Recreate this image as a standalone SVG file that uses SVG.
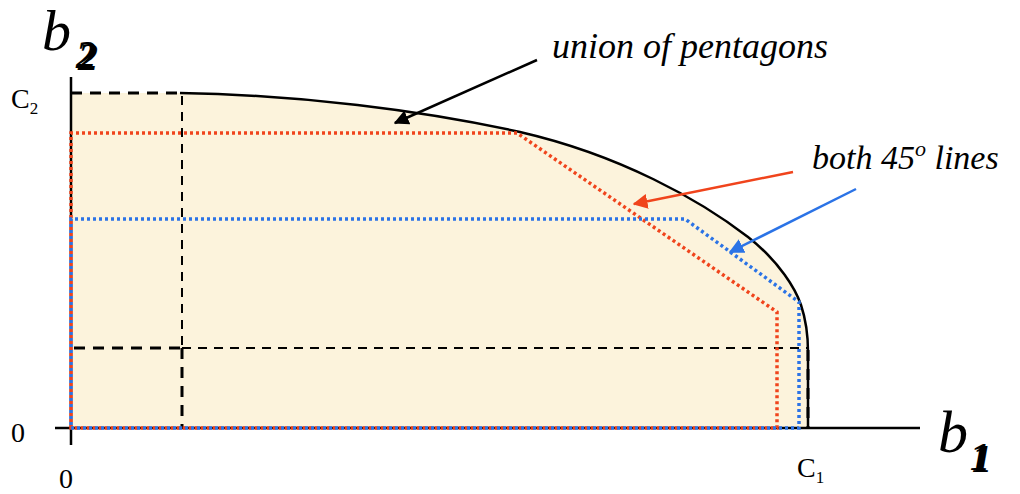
<svg xmlns="http://www.w3.org/2000/svg" width="1020" height="494" viewBox="0 0 1020 494">
<style>
.lbl{font-family:"Liberation Serif","Times New Roman",serif;fill:#000}
.it{font-style:italic}
.red{fill:none;stroke:#F0441C;stroke-width:3.5;stroke-dasharray:3 3}
.blue{fill:none;stroke:#2B73E6;stroke-width:3.5;stroke-dasharray:3 3}
.dk{fill:none;stroke:#000;stroke-width:3;stroke-dasharray:11 8}
.dt{fill:none;stroke:#000;stroke-width:2;stroke-dasharray:9 7}
.ax{fill:none;stroke:#000;stroke-width:2.5}
</style>
<defs>
<marker id="ah-k" viewBox="0 0 10 10" refX="9" refY="5" markerWidth="6" markerHeight="6" orient="auto" markerUnits="strokeWidth"><path d="M0,0 L10,5 L0,10 z" fill="#000"/></marker>
<marker id="ah-r" viewBox="0 0 10 10" refX="9" refY="5" markerWidth="6" markerHeight="6" orient="auto" markerUnits="strokeWidth"><path d="M0,0 L10,5 L0,10 z" fill="#F0441C"/></marker>
<marker id="ah-b" viewBox="0 0 10 10" refX="9" refY="5" markerWidth="6" markerHeight="6" orient="auto" markerUnits="strokeWidth"><path d="M0,0 L10,5 L0,10 z" fill="#2B73E6"/></marker>
</defs>
<rect width="1020" height="494" fill="#fff"/>
<g id="region">
<path d="M71,428 L71,93 L180,93 C300,95 420,110 520,132 C620,155 700,200 748,237 C780,262 796,290 801,305 C806,320 808,340 808,352 L808,428 Z" fill="#FCF3DC" stroke="none"/>
<path d="M180,93 C300,95 420,110 520,132 C620,155 700,200 748,237 C780,262 796,290 801,305 C806,320 808,340 808,352 L808,428" fill="none" stroke="#000" stroke-width="2.5"/>
</g>
<g id="axes">
<path class="ax" d="M71,77 L71,445"/>
<path class="ax" d="M55,428 L920,428"/>
</g>
<g id="guides">
<path class="dk" d="M71,93 L182,93"/>
<path class="dt" d="M182,96 L182,348"/>
<path class="dk" d="M182,348 L182,428"/>
<path class="dk" d="M74,348 L182,348"/>
<path class="dt" d="M182,348 L808,348"/>
<path class="dk" d="M808,350 L808,428"/>
</g>
<g id="pentagon-red">
<path class="red" d="M71,428 L71,133 L517,133 L777,312 L777,428 Z"/>
</g>
<g id="pentagon-blue">
<path class="blue" d="M71,428 L71,219 L685,219 L799,302 L799,428 L71,428" stroke-dashoffset="3"/>
</g>
<g id="connectors">
<line x1="537" y1="60" x2="395" y2="123" stroke="#000" stroke-width="2.5" marker-end="url(#ah-k)"/>
<line x1="793" y1="172" x2="634" y2="204" stroke="#F0441C" stroke-width="2.5" marker-end="url(#ah-r)"/>
<line x1="856" y1="189" x2="730" y2="252" stroke="#2B73E6" stroke-width="2.5" marker-end="url(#ah-b)"/>
</g>
<g id="labels">
<text class="lbl it" x="552" y="58" font-size="36">union of pentagons</text>
<text class="lbl it" x="812" y="169" font-size="34">both 45<tspan font-size="22" dy="-13">o</tspan><tspan dy="13"> lines</tspan></text>
<text class="lbl it" x="42" y="50" font-size="58">b</text>
<text class="lbl it" x="76" y="68" font-size="40" font-weight="bold" fill="#999" transform="translate(2,2)">2</text>
<text class="lbl it" x="76" y="68" font-size="40" font-weight="bold">2</text>
<text class="lbl it" x="938" y="452" font-size="60">b</text>
<text class="lbl it" x="970" y="470" font-size="40" font-weight="bold" fill="#999" transform="translate(2,2)">1</text>
<text class="lbl it" x="970" y="470" font-size="40" font-weight="bold">1</text>
<text class="lbl" x="11" y="108" font-size="28">C<tspan font-size="17" dy="6">2</tspan></text>
<text class="lbl" x="797" y="477" font-size="28">C<tspan font-size="17" dy="6">1</tspan></text>
<text class="lbl" x="11" y="442" font-size="28">0</text>
<text class="lbl" x="59" y="488" font-size="28">0</text>
</g>
</svg>
